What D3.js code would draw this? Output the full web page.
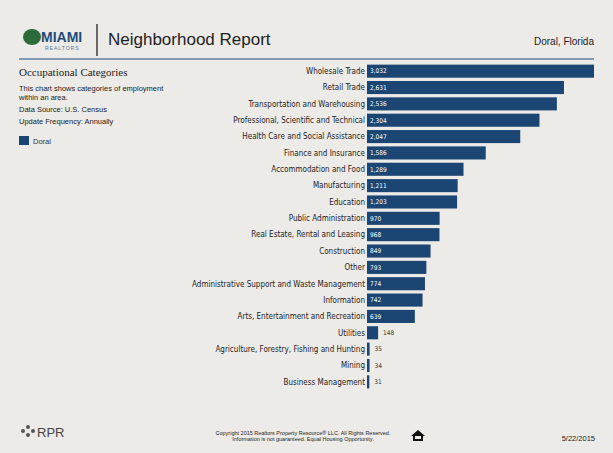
<!DOCTYPE html>
<html>
<head>
<meta charset="utf-8">
<script src="https://cdn.jsdelivr.net/npm/d3@7"></script>
<style>
  body { margin: 0; background: #edebe8; }
  svg { font-family: "Liberation Sans", Arial, sans-serif; }
</style>
</head>
<body>
<div id="chart"></div>
<script>
document.addEventListener('DOMContentLoaded', function() {
  const data = [
    {name: "Wholesale Trade", value: 3032},
    {name: "Retail Trade", value: 2631},
    {name: "Transportation and Warehousing", value: 2536},
    {name: "Professional, Scientific and Technical", value: 2304},
    {name: "Health Care and Social Assistance", value: 2047},
    {name: "Finance and Insurance", value: 1586},
    {name: "Accommodation and Food", value: 1289},
    {name: "Manufacturing", value: 1211},
    {name: "Education", value: 1203},
    {name: "Public Administration", value: 970},
    {name: "Real Estate, Rental and Leasing", value: 968},
    {name: "Construction", value: 849},
    {name: "Other", value: 793},
    {name: "Administrative Support and Waste Management", value: 774},
    {name: "Information", value: 742},
    {name: "Arts, Entertainment and Recreation", value: 639},
    {name: "Utilities", value: 148},
    {name: "Agriculture, Forestry, Fishing and Hunting", value: 35},
    {name: "Mining", value: 34},
    {name: "Business Management", value: 31}
  ];
  const barColor = "#1b4673";

  const svg = d3.select("#chart").append("svg")
      .attr("width", 613).attr("height", 453);

  // Header
  const logo = svg.append("g");
  logo.append("ellipse").attr("cx", 32).attr("cy", 37).attr("rx", 9).attr("ry", 8).attr("fill", "#2d6b3a");
  logo.append("text").attr("x", 41).attr("y", 42).attr("font-size", 14).attr("font-weight", "bold")
      .attr("fill", "#1e4d7a").text("MIAMI");
  logo.append("text").attr("x", 45).attr("y", 50).attr("font-size", 5).attr("fill", "#4a7a9e")
      .attr("letter-spacing", 1).text("REALTORS");
  svg.append("line").attr("x1", 97).attr("x2", 97).attr("y1", 24).attr("y2", 56)
      .attr("stroke", "#222").attr("stroke-width", 1.3);
  svg.append("text").attr("x", 108).attr("y", 45).attr("font-size", 17).attr("fill", "#222")
      .text("Neighborhood Report");
  svg.append("text").attr("x", 594).attr("y", 45).attr("text-anchor", "end").attr("font-size", 10)
      .attr("fill", "#222").text("Doral, Florida");
  svg.append("line").attr("x1", 19).attr("x2", 594).attr("y1", 59).attr("y2", 59)
      .attr("stroke", "#5b80a8").attr("stroke-width", 1.5);

  // Left description
  svg.append("text").attr("x", 19).attr("y", 76).attr("font-family", "Liberation Serif, serif")
      .attr("font-size", 11).attr("fill", "#222").text("Occupational Categories");
  const desc = ["This chart shows categories of employment", "within an area."];
  desc.forEach(function(t, i) {
    svg.append("text").attr("x", 19).attr("y", 91 + i * 9).attr("font-size", 7.5).attr("fill", "#222").text(t);
  });
  svg.append("text").attr("x", 19).attr("y", 112).attr("font-size", 7.5).attr("fill", "#222").text("Data Source: U.S. Census");
  svg.append("text").attr("x", 19).attr("y", 124).attr("font-size", 7.5).attr("fill", "#222").text("Update Frequency: Annually");
  svg.append("rect").attr("x", 19).attr("y", 136).attr("width", 10).attr("height", 9).attr("fill", barColor);
  svg.append("text").attr("x", 33).attr("y", 144).attr("font-size", 7.5).attr("fill", "#333").text("Doral");

  // Bars
  const x = d3.scaleLinear().domain([0, 3032]).range([367, 594]);
  const y = d3.scaleBand().domain(data.map(d => d.name)).range([63, 390]).paddingInner(0.2).paddingOuter(0.1);

  const row = svg.selectAll(".row").data(data).enter().append("g").attr("class", "row");
  row.append("rect")
      .attr("x", x(0)).attr("y", d => y(d.name))
      .attr("width", d => x(d.value) - x(0)).attr("height", y.bandwidth())
      .attr("fill", barColor);
  row.append("text")
      .attr("x", x(0) - 2).attr("y", d => y(d.name) + y.bandwidth() / 2).attr("dy", "0.35em")
      .attr("text-anchor", "end").attr("font-family", "DejaVu Sans Condensed, sans-serif")
      .attr("font-size", 8).attr("fill", "#222").text(d => d.name);
  row.append("text")
      .attr("x", d => (x(d.value) - x(0) > 30 ? x(0) + 3 : x(d.value) + 5))
      .attr("y", d => y(d.name) + y.bandwidth() / 2).attr("dy", "0.35em")
      .attr("font-family", "DejaVu Sans Condensed, sans-serif").attr("font-size", 6.5)
      .attr("fill", d => (x(d.value) - x(0) > 30 ? "#fff" : "#333"))
      .text(d => d3.format(",")(d.value));

  // Footer
  const rpr = svg.append("g");
  [[23, 431], [28, 427], [28, 435], [33, 431]].forEach(function(p) {
    rpr.append("circle").attr("cx", p[0]).attr("cy", p[1]).attr("r", 2).attr("fill", "#555");
  });
  rpr.append("text").attr("x", 37).attr("y", 437).attr("font-size", 13).attr("fill", "#444").text("RPR");
  svg.append("text").attr("x", 303).attr("y", 435).attr("text-anchor", "middle").attr("font-size", 5.5)
      .attr("fill", "#222").text("Copyright 2015 Realtors Property Resource® LLC. All Rights Reserved.");
  svg.append("text").attr("x", 303).attr("y", 441).attr("text-anchor", "middle").attr("font-size", 5.5)
      .attr("fill", "#222").text("Information is not guaranteed. Equal Housing Opportunity.");
  const house = svg.append("g").attr("transform", "translate(418,436)");
  house.append("path").attr("d", "M-7,0 L0,-6 L7,0 L5,0 L5,5 L-5,5 L-5,0 Z").attr("fill", "#111");
  house.append("rect").attr("x", -3).attr("y", 0).attr("width", 6).attr("height", 3).attr("fill", "#edebe8");
  svg.append("text").attr("x", 595).attr("y", 441).attr("text-anchor", "end").attr("font-size", 7.5)
      .attr("fill", "#222").text("5/22/2015");
});
</script>
</body>
</html>
